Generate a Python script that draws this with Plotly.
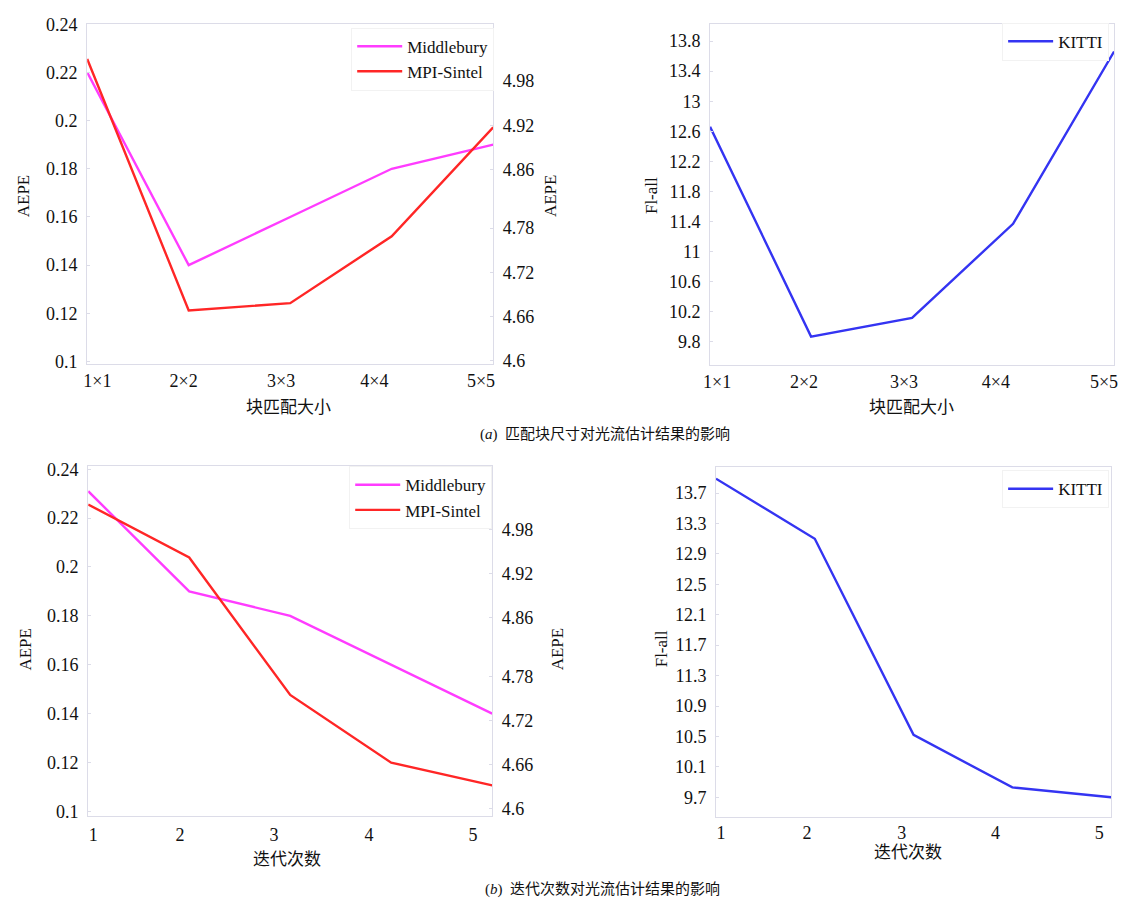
import plotly.graph_objects as go

# ---------------- data ----------------
block_sizes = ["1×1", "2×2", "3×3", "4×4", "5×5"]
iterations = ["1", "2", "3", "4", "5"]

mid_block = [0.22, 0.14, 0.16, 0.18, 0.19]
sintel_block = [5.01, 4.668, 4.678, 4.769, 4.917]
kitti_block = [12.66, 9.87, 10.12, 11.37, 13.66]

mid_iter = [0.231, 0.19, 0.18, 0.16, 0.14]
sintel_iter = [5.014, 4.942, 4.755, 4.663, 4.632]
kitti_iter = [13.89, 13.10, 10.52, 9.83, 9.70]

aepe_ticks = [0.1, 0.12, 0.14, 0.16, 0.18, 0.2, 0.22, 0.24]
aepe_ticktext = ["0.1", "0.12", "0.14", "0.16", "0.18", "0.2", "0.22", "0.24"]
sintel_ticks = [4.6, 4.66, 4.72, 4.78, 4.86, 4.92, 4.98]
sintel_ticktext = ["4.6", "4.66", "4.72", "4.78", "4.86", "4.92", "4.98"]
kitti_block_ticks = [9.8, 10.2, 10.6, 11.0, 11.4, 11.8, 12.2, 12.6, 13.0, 13.4, 13.8]
kitti_block_ticktext = ["9.8", "10.2", "10.6", "11", "11.4", "11.8", "12.2", "12.6", "13", "13.4", "13.8"]
kitti_iter_ticks = [9.7, 10.1, 10.5, 10.9, 11.3, 11.7, 12.1, 12.5, 12.9, 13.3, 13.7]
kitti_iter_ticktext = ["9.7", "10.1", "10.5", "10.9", "11.3", "11.7", "12.1", "12.5", "12.9", "13.3", "13.7"]

caption_a = "(<i>a</i>)  匹配块尺寸对光流估计结果的影响"
caption_b = "(<i>b</i>)  迭代次数对光流估计结果的影响"

# ---------------- style ----------------
W, H = 1126, 907
FONT = "Liberation Serif, Times New Roman, Noto Sans CJK SC, serif"
MAG = "#ff3cff"
RED = "#ff2626"
BLUE = "#3434f2"
FRAME = "#dcdce8"
LW = 2.4

# small horizontal shifts of the x tick labels (as in the original figure), in axis units
label_shift_tl = [0.10, -0.05, -0.09, -0.17, -0.12]
label_shift_tr = [0.07, -0.07, -0.08, -0.17, -0.10]
label_shift_bl = [0.05, -0.09, -0.16, -0.22, -0.19]
label_shift_br = [0.05, -0.08, -0.12, -0.17, -0.12]


def px(x):
    return x / W


def py(y):
    return 1 - y / H


def positions(cats):
    return [i + 1 for i in range(len(cats))]


xb = positions(block_sizes)
xi = positions(iterations)

fig = go.Figure()

# top-left
fig.add_trace(go.Scatter(x=xb, y=mid_block, name="Middlebury", mode="lines",
                         line=dict(color=MAG, width=LW), xaxis="x", yaxis="y", legend="legend"))
fig.add_trace(go.Scatter(x=xb, y=sintel_block, name="MPI-Sintel", mode="lines",
                         line=dict(color=RED, width=LW), xaxis="x", yaxis="y2", legend="legend"))
# top-right
fig.add_trace(go.Scatter(x=xb, y=kitti_block, name="KITTI", mode="lines",
                         line=dict(color=BLUE, width=LW), xaxis="x2", yaxis="y3", legend="legend2"))
# bottom-left
fig.add_trace(go.Scatter(x=xi, y=mid_iter, name="Middlebury", mode="lines",
                         line=dict(color=MAG, width=LW), xaxis="x3", yaxis="y4", legend="legend3"))
fig.add_trace(go.Scatter(x=xi, y=sintel_iter, name="MPI-Sintel", mode="lines",
                         line=dict(color=RED, width=LW), xaxis="x3", yaxis="y5", legend="legend3"))
# bottom-right
fig.add_trace(go.Scatter(x=xi, y=kitti_iter, name="KITTI", mode="lines",
                         line=dict(color=BLUE, width=LW), xaxis="x4", yaxis="y6", legend="legend4"))

tickfont = dict(family=FONT, size=18, color="#111")


def xax(domain, anchor, cats, shift, standoff):
    pos = positions(cats)
    return dict(domain=domain, anchor=anchor, range=[1, len(cats)],
                tickvals=[p + s for p, s in zip(pos, shift)], ticktext=cats,
                showgrid=False, zeroline=False, showline=True, mirror=True,
                linecolor=FRAME, linewidth=1, ticks="", tickfont=tickfont,
                ticklabelstandoff=standoff)


def yax(domain, anchor, rng, tv, tt, side="left", overlaying=None):
    d = dict(domain=domain, anchor=anchor, range=rng, tickvals=tv, ticktext=tt,
             showgrid=False, zeroline=False, showline=True, mirror=(overlaying is None),
             linecolor=FRAME, linewidth=1, ticks="inside", ticklen=3,
             tickcolor=FRAME, tickfont=tickfont, side=side, ticklabelstandoff=5)
    if overlaying:
        d["overlaying"] = overlaying
    return d


TLx = [px(81), px(491)]
TLy = [py(362), py(15)]
TRx = [px(710), px(1118)]
TRy = [py(363), py(15)]
BLx = [px(82), px(490)]
BLy = [py(822), py(466)]
BRx = [px(716), px(1115)]
BRy = [py(823), py(467)]

legfont = dict(family=FONT, size=17, color="#111")


def leg(x, y):
    return dict(x=x, y=y, xanchor="right", yanchor="top", bgcolor="white",
                bordercolor="#f2f2f2", borderwidth=1, font=legfont,
                tracegroupgap=0, itemwidth=45)


fig.update_layout(
    width=W, height=H, margin=dict(l=0, r=0, t=0, b=0),
    paper_bgcolor="white", plot_bgcolor="white",
    font=dict(family=FONT, size=16, color="#111"),
    xaxis=xax(TLx, "y", block_sizes, label_shift_tl, 0),
    yaxis=yax(TLy, "x", [0.0989, 0.2402], aepe_ticks, aepe_ticktext),
    yaxis2=yax(TLy, "x", [4.595, 5.058], sintel_ticks, sintel_ticktext, side="right", overlaying="y"),
    xaxis2=xax(TRx, "y3", block_sizes, label_shift_tr, 0),
    yaxis3=yax(TRy, "x2", [9.49, 14.03], kitti_block_ticks, kitti_block_ticktext),
    xaxis3=xax(BLx, "y4", iterations, label_shift_bl, 3),
    yaxis4=yax(BLy, "x3", [0.0983, 0.2412], aepe_ticks, aepe_ticktext),
    yaxis5=yax(BLy, "x3", [4.591, 5.066], sintel_ticks, sintel_ticktext, side="right", overlaying="y4"),
    xaxis4=xax(BRx, "y6", iterations, label_shift_br, 0),
    yaxis6=yax(BRy, "x4", [9.446, 14.04], kitti_iter_ticks, kitti_iter_ticktext),
    legend=leg(px(492), py(19)),
    legend2=leg(px(1113), py(14)),
    legend3=leg(px(490), py(466)),
    legend4=leg(px(1113), py(470)),
)

annos = [
    # y titles
    dict(text="AEPE", x=px(17), y=py(190), textangle=-90),
    dict(text="AEPE", x=px(549), y=py(190), textangle=-90),
    dict(text="Fl-all", x=px(651), y=py(190), textangle=-90),
    dict(text="AEPE", x=px(19), y=py(652), textangle=-90),
    dict(text="AEPE", x=px(556), y=py(652), textangle=-90),
    dict(text="Fl-all", x=px(661), y=py(652), textangle=-90),
    # x titles
    dict(text="块匹配大小", x=px(284), y=py(406)),
    dict(text="块匹配大小", x=px(913), y=py(406)),
    dict(text="迭代次数", x=px(283), y=py(867)),
    dict(text="迭代次数", x=px(910), y=py(860)),
    # captions
    dict(text=caption_a, x=px(604), y=py(434), size=15),
    dict(text=caption_b, x=px(601), y=py(897), size=15),
]
for a in annos:
    size = a.pop("size", 17)
    fig.add_annotation(xref="paper", yref="paper", showarrow=False,
                       xanchor="center", yanchor="middle",
                       font=dict(family=FONT, size=size, color="#111"), **a)

fig.write_html("out.html", config={"displayModeBar": False},
               post_script="document.body.style.margin='0';")
